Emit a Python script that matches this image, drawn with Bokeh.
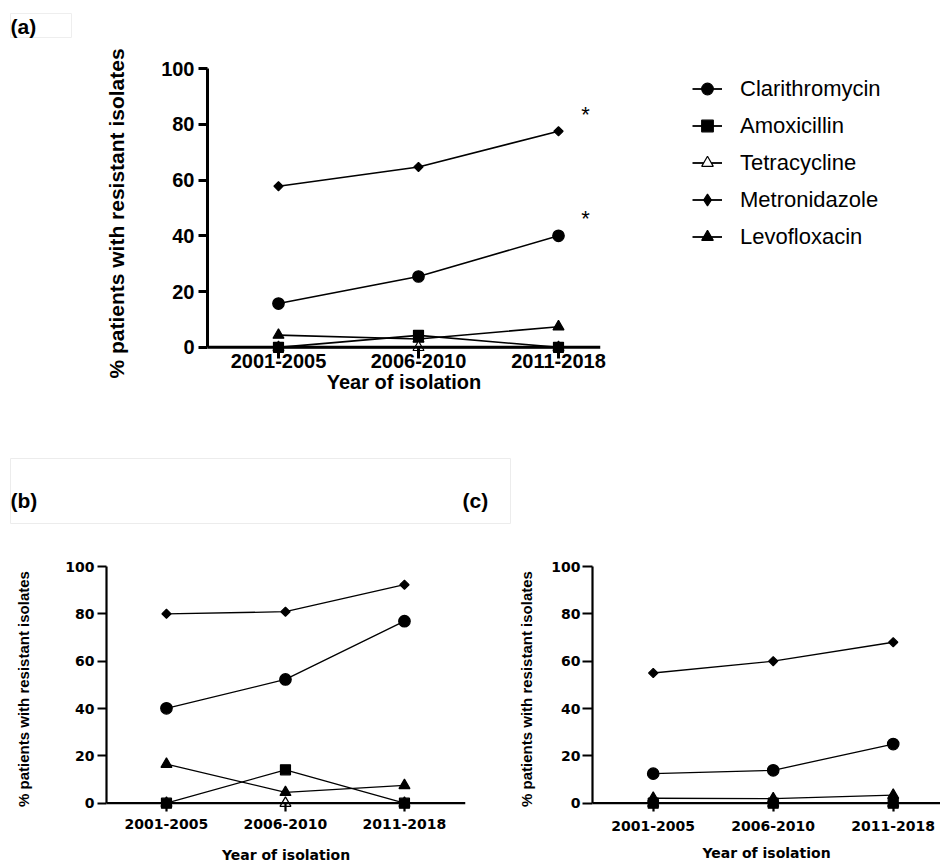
import math
from bokeh.plotting import figure
from bokeh.models import Range1d, FixedTicker, Span, Label, Legend, LegendItem, Spacer
from bokeh.layouts import column, row
from bokeh.embed import file_html
from bokeh.resources import INLINE

# ---------------- data ----------------
years = ["2001-2005", "2006-2010", "2011-2018"]
antibiotics = ["Clarithromycin", "Amoxicillin", "Tetracycline", "Metronidazole", "Levofloxacin"]
y_ticks = [0, 20, 40, 60, 80, 100]
y_title = "% patients with resistant isolates"
x_title = "Year of isolation"
panel_names = ["(a)", "(b)", "(c)"]

a_clarithromycin = [15.7, 25.4, 40.0]
a_amoxicillin = [0.0, 4.3, 0.0]
a_tetracycline = [0.0, 0.0, 0.0]
a_metronidazole = [57.8, 64.7, 77.5]
a_levofloxacin = [4.4, 3.0, 7.4]

b_clarithromycin = [40.1, 52.3, 76.9]
b_amoxicillin = [0.0, 14.1, 0.0]
b_tetracycline = [0.0, 0.0, 0.0]
b_metronidazole = [80.0, 80.9, 92.3]
b_levofloxacin = [16.5, 4.6, 7.5]

c_clarithromycin = [12.5, 13.9, 25.0]
c_amoxicillin = [0.0, 0.0, 0.0]
c_tetracycline = [0.0, 0.0, 0.0]
c_metronidazole = [55.0, 60.0, 68.0]
c_levofloxacin = [2.1, 1.9, 3.4]

significant_a = ["Metronidazole", "Clarithromycin"]

panel_a = dict(zip(antibiotics, [a_clarithromycin, a_amoxicillin, a_tetracycline, a_metronidazole, a_levofloxacin]))
panel_b = dict(zip(antibiotics, [b_clarithromycin, b_amoxicillin, b_tetracycline, b_metronidazole, b_levofloxacin]))
panel_c = dict(zip(antibiotics, [c_clarithromycin, c_amoxicillin, c_tetracycline, c_metronidazole, c_levofloxacin]))

# ---------------- styles ----------------
marker_style = {
    "Clarithromycin": dict(marker="circle", size=11.5, fill="black", angle=0.0),
    "Amoxicillin": dict(marker="square", size=10, fill="black", angle=0.0),
    "Tetracycline": dict(marker="triangle", size=11, fill="white", angle=0.0),
    "Metronidazole": dict(marker="square", size=6.5, fill="black", angle=math.pi / 4),
    "Levofloxacin": dict(marker="triangle", size=11, fill="black", angle=0.0),
}
legend_marker = {"Clarithromycin": "circle", "Amoxicillin": "square", "Tetracycline": "triangle",
                 "Metronidazole": "diamond", "Levofloxacin": "triangle"}


def make_panel(series, cfg):
    p = figure(width=cfg["width"], height=cfg["height"], output_backend="svg", toolbar_location=None,
               x_range=Range1d(cfg["x0"], cfg["x1"]), y_range=Range1d(cfg["y0"], 100),
               min_border_left=cfg["mbl"], min_border_right=cfg["mbr"],
               min_border_top=cfg["mbt"], min_border_bottom=cfg["mbb"])
    p.grid.visible = False
    p.outline_line_color = None
    p.background_fill_color = "white"
    p.border_fill_color = "white"
    xs = list(range(len(years)))
    # first data set is drawn last (on top)
    for name in reversed(antibiotics):
        vals = series[name]
        st = marker_style[name]
        p.line(xs, vals, line_color="black", line_width=cfg["lw"])
        p.scatter(xs, vals, marker=st["marker"], size=st["size"], angle=st["angle"],
                  fill_color=st["fill"], line_color="black", line_width=1.2)
    # zero line acting as the x-axis line
    p.add_layout(Span(location=0, dimension="width", line_color="black", line_width=cfg["aw"]))

    ya = p.yaxis[0]
    ya.bounds = (0, 100)
    ya.ticker = FixedTicker(ticks=y_ticks)
    ya.axis_line_width = cfg["aw"]
    ya.major_tick_line_width = cfg["aw"]
    ya.major_tick_out = cfg["ytick"]
    ya.major_tick_in = 0
    ya.minor_tick_line_color = None
    ya.major_label_standoff = cfg["ystand"]
    ya.major_label_text_font = cfg["tfont"]
    ya.major_label_text_font_style = "bold"
    ya.major_label_text_font_size = cfg["tsize"]
    ya.major_label_text_color = "black"
    ya.axis_label = y_title
    ya.axis_label_text_font = "Liberation Sans"
    ya.axis_label_text_font_style = "bold"
    ya.axis_label_text_font_size = cfg["ylsize"]
    ya.axis_label_text_color = "black"
    ya.axis_label_standoff = cfg["ylstand"]

    xa = p.xaxis[0]
    xa.ticker = FixedTicker(ticks=xs)
    xa.major_label_overrides = {i: lab for i, lab in enumerate(years)}
    xa.axis_line_color = None
    xa.major_tick_in = cfg["xtick_in"]
    xa.major_tick_out = 0
    xa.major_tick_line_width = cfg["aw"]
    xa.minor_tick_line_color = None
    xa.major_label_standoff = cfg["xstand"]
    xa.major_label_text_font = cfg["tfont"]
    xa.major_label_text_font_style = "bold"
    xa.major_label_text_font_size = cfg["tsize"]
    xa.major_label_text_color = "black"
    xa.axis_label = x_title
    xa.axis_label_text_font = cfg["tfont"]
    xa.axis_label_text_font_style = "bold"
    xa.axis_label_text_font_size = cfg["xlsize"]
    xa.axis_label_text_color = "black"
    xa.axis_label_standoff = cfg["xlstand"]
    return p


pa = make_panel(panel_a, dict(width=672, height=420, mbl=199, mbr=80, mbt=30, mbb=100,
                              x0=-0.507, x1=2.30, y0=-4, lw=1.6, aw=3, ytick=9, ystand=4,
                              tfont="Liberation Sans", tsize="20px", ylsize="21px", ylstand=30,
                              xtick_in=11, xstand=-5, xlsize="20px", xlstand=0))
pb = make_panel(panel_b, dict(width=507, height=341, mbl=98, mbr=50, mbt=42, mbb=53,
                              x0=-0.504, x1=2.513, y0=-3.5, lw=1.3, aw=2.2, ytick=9, ystand=3,
                              tfont="DejaVu Sans", tsize="14px", ylsize="15px", ylstand=30,
                              xtick_in=8, xstand=7, xlsize="14px", xlstand=15))
pc = make_panel(panel_c, dict(width=425, height=341, mbl=77, mbr=0, mbt=42, mbb=53,
                              x0=-0.506, x1=2.394, y0=-3.5, lw=1.3, aw=2.2, ytick=10, ystand=2,
                              tfont="DejaVu Sans", tsize="14px", ylsize="15px", ylstand=13,
                              xtick_in=8, xstand=9, xlsize="14px", xlstand=11))

# significance asterisks at the last period of panel (a)
for name in significant_a:
    pa.add_layout(Label(x=len(years) - 1, y=panel_a[name][-1], x_offset=27, y_offset=17, text="*",
                        text_font="Liberation Sans", text_font_size="22px", text_align="center",
                        text_baseline="alphabetic", text_color="black"))

# key for panel (a): its own small figure; the series are drawn there out of view,
# so that the legend shows the same line + marker glyphs
legfig = figure(width=254, height=210, output_backend="svg", toolbar_location=None,
                x_range=Range1d(100, 101), y_range=Range1d(1000, 1001), min_border=0,
                x_axis_location=None, y_axis_location=None)
legfig.grid.visible = False
legfig.outline_line_color = None
items = []
xs_key = list(range(len(years)))
for name in antibiotics:
    st = marker_style[name]
    lr = legfig.line(xs_key, panel_a[name], line_color="black", line_width=1.8)
    sr = legfig.scatter(xs_key, panel_a[name], marker=legend_marker[name], fill_color=st["fill"],
                        line_color="black", line_width=1.2)
    items.append(LegendItem(label=name, renderers=[lr, sr]))
legend = Legend(items=items, location="top_left", orientation="vertical",
                glyph_width=30, glyph_height=29, label_height=29, spacing=8, label_standoff=18,
                padding=0, margin=12, border_line_color=None, background_fill_alpha=0,
                label_text_font="Liberation Sans", label_text_font_size="22px", label_text_color="black")
legfig.add_layout(legend)


def tag_figure(w, h, outline):
    f = figure(width=w, height=h, output_backend="svg", toolbar_location=None,
               x_range=Range1d(0, 1), y_range=Range1d(0, 1), min_border=0,
               x_axis_location=None, y_axis_location=None)
    f.grid.visible = False
    f.outline_line_color = outline
    return f


def tag_label(text, x, y):
    return Label(x=x, y=y, x_units="screen", y_units="screen", text=text,
                 text_font="Liberation Sans", text_font_style="bold", text_font_size="21px",
                 text_align="left", text_baseline="middle", text_color="black")


afig = tag_figure(62, 25, "#eeeeee")
afig.add_layout(tag_label(panel_names[0], 0, 12))

band = tag_figure(501, 66, "#ececec")
band.add_layout(tag_label(panel_names[1], 0, 24))
band.add_layout(tag_label(panel_names[2], 452, 24))

left_col = column(Spacer(width=10, height=5), row(Spacer(width=2, height=25), afig), pa)
right_col = column(Spacer(width=254, height=54), legfig)
top = row(left_col, right_col)
inner = column(top, row(Spacer(width=2, height=66), band), row(pb, pc))
layout = column(Spacer(width=10, height=8), row(Spacer(width=8, height=10), inner))

open("out.html", "w").write(file_html(layout, INLINE))
